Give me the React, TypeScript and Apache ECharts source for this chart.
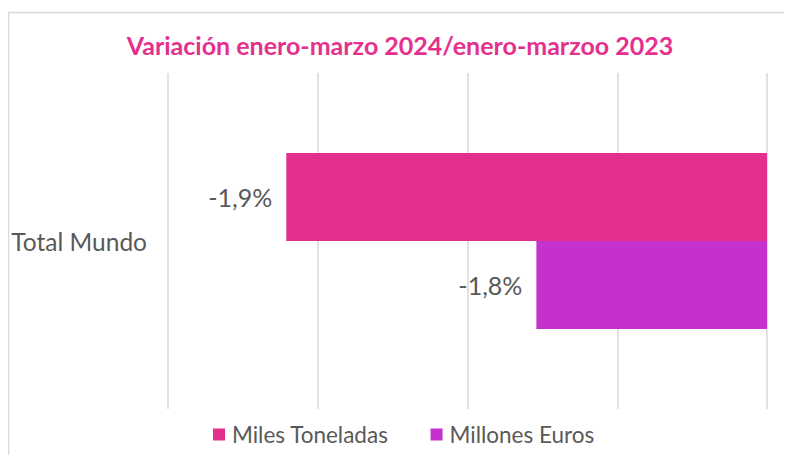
import React, { useEffect, useRef } from "react";
import * as echarts from "echarts";

const categories = ["Total Mundo"];
const seriesNames = ["Miles Toneladas", "Millones Euros"];
const milesToneladas = [-1.921];
const millonesEuros = [-1.754];
const colors = ["#E32F8F", "#C431CC"];
const titleText = "Variación enero-marzo 2024/enero-marzoo 2023";

export default function App() {
  const ref = useRef<HTMLDivElement>(null);
  useEffect(() => {
    if (!ref.current) return;
    const chart = echarts.init(ref.current, undefined, { renderer: "svg" });
    const fmt = (p: any) => p.value.toFixed(1).replace(".", ",") + "%";
    const font = "Lato, 'Open Sans', sans-serif";
    chart.setOption({
      animation: false,
      textStyle: { fontFamily: font },
      title: {
        text: titleText,
        left: "center",
        top: 19,
        textStyle: { color: "#E6308E", fontSize: 25, fontWeight: "bold", fontFamily: font },
      },
      graphic: [
        {
          type: "rect",
          shape: { x: 0.5, y: 4.5, width: 900, height: 600 },
          style: { fill: "none", stroke: "#d9d9d9", lineWidth: 1.5 },
          silent: true,
        },
      ],
      legend: {
        data: seriesNames,
        left: 200,
        top: 410,
        icon: "rect",
        itemWidth: 12,
        itemHeight: 12,
        itemGap: 42,
        textStyle: { color: "#595959", fontSize: 22.5, fontFamily: font, padding: [0, 0, 0, 2] },
      },
      grid: { left: 160, right: 25, top: 65, bottom: 46 },
      xAxis: {
        type: "value",
        min: -2,
        max: -1.6,
        interval: 0.1,
        axisLabel: { show: false },
        axisLine: { show: false },
        axisTick: { show: false },
        splitLine: { show: true, lineStyle: { color: "#d9d9d9", width: 1.5 } },
      },
      yAxis: {
        type: "category",
        data: categories,
        inverse: true,
        axisLine: { show: false },
        axisTick: { show: false },
        axisLabel: { color: "#595959", fontSize: 24.5, margin: 21, fontFamily: font },
      },
      series: [
        {
          name: seriesNames[0],
          type: "bar",
          data: milesToneladas,
          barWidth: 88,
          barGap: "0%",
          itemStyle: { color: colors[0] },
          label: { show: true, position: "left", distance: 14, formatter: fmt, color: "#595959", fontSize: 25, fontFamily: font },
        },
        {
          name: seriesNames[1],
          type: "bar",
          data: millonesEuros,
          barWidth: 88,
          barGap: "0%",
          itemStyle: { color: colors[1] },
          label: { show: true, position: "left", distance: 14, formatter: fmt, color: "#595959", fontSize: 25, fontFamily: font },
        },
      ],
    });
    return () => chart.dispose();
  }, []);
  return <div ref={ref} style={{ width: 784, height: 447 }} />;
}
